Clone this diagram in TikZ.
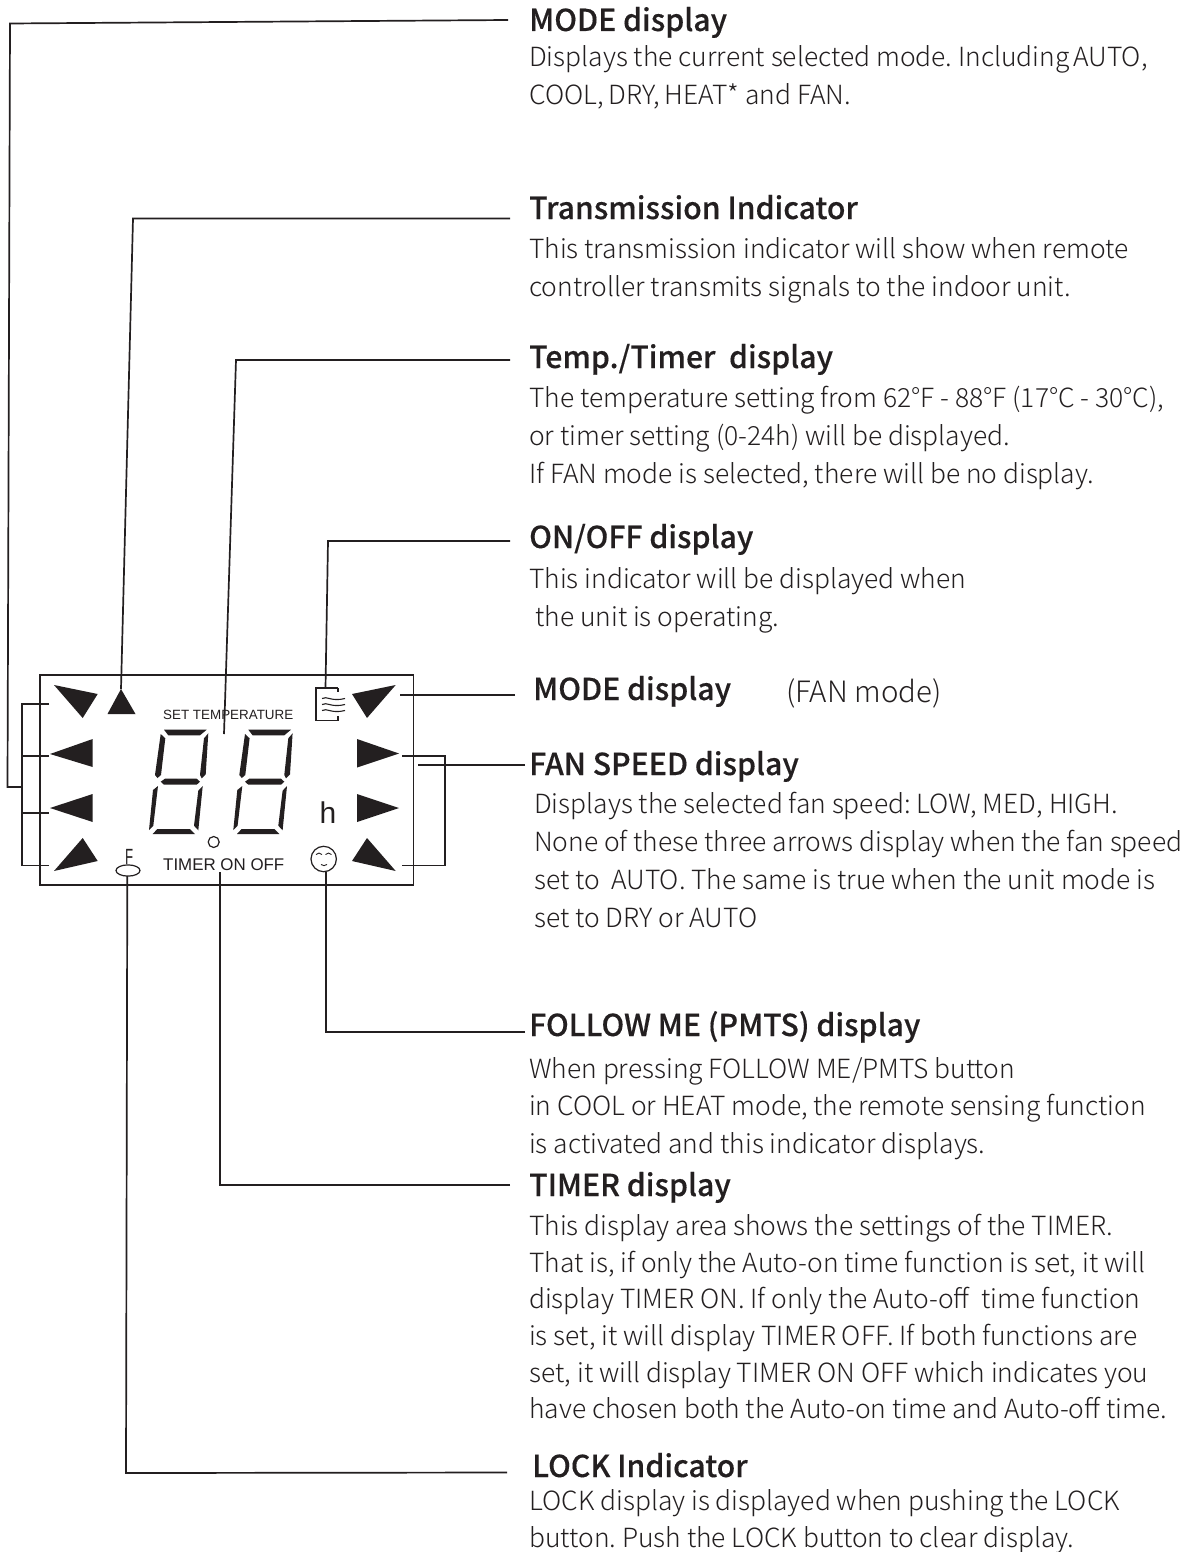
\documentclass[tikz,border=0pt]{standalone}
\usepackage{fontspec}
\setmainfont{Noto Sans CJK SC Light}
\newfontfamily\headfont[FakeBold=0.3]{Noto Sans CJK SC Medium}
\newfontfamily\lcdfont{Liberation Sans}
\definecolor{ink}{HTML}{231F20}
\tikzset{
  head/.style={anchor=base west,inner sep=0pt,font=\headfont\fontsize{30.2}{34}\selectfont,text=ink},
  body/.style={anchor=base west,inner sep=0pt,font=\frenchspacing\fontsize{26.4}{30}\selectfont,text=ink},
  lcd/.style={anchor=base west,inner sep=0pt,text=ink},
  wire/.style={draw=ink,line width=1.7pt},
  seg/.style={fill=ink,draw=none},
  frame/.style={draw=ink,line width=1.7pt},
}
\begin{document}
\begin{tikzpicture}[x=1pt,y=-1pt]
\useasboundingbox (0,0) rectangle (1185,1552);
\fill[white] (0,0) rectangle (1185,1552);
% LCD frame
\draw[frame] (40,675) rectangle (413.5,885);
% triangles
\foreach \p in {
 {(54,685)--(97.7,694)--(82.7,718)},
 {(50,754)--(92.7,739)--(92.7,767)},
 {(50,808)--(92.7,794)--(92.7,822)},
 {(54,871)--(97.7,861)--(82.7,838)},
 {(121,689)--(107.5,714)--(135.5,714)},
 {(395.7,685)--(352,694)--(367,718)},
 {(399,753.5)--(357,739)--(357,767.5)},
 {(399,808)--(357,794)--(357,822)},
 {(395.7,871)--(352,861)--(367,838)}}
 {\expandafter\fill\expandafter[ink] \p -- cycle;}
% digits
\foreach \dx in {0,84.3}{
\begin{scope}[xshift=\dx]
\fill[seg] (164,729.7)--(206.7,729.7)--(200,735.3)--(168.3,735.3)--cycle;
\fill[seg] (160.7,734)--(165.3,738.3)--(161,775)--(157.5,778)--(155,775)--cycle;
\fill[seg] (208.3,733.3)--(204,738.3)--(200,775)--(201.7,778.3)--(205.7,774.3)--cycle;
\fill[seg] (160.7,781.7)--(165,778.7)--(196.7,778.7)--(200,781.7)--(196.7,784.7)--(164,784.7)--cycle;
\fill[seg] (158,786)--(153,790)--(149,830)--(153.3,825.7)--cycle;
\fill[seg] (202.7,786)--(198.3,790.7)--(194,825.7)--(198.3,830.3)--cycle;
\fill[seg] (152.7,834)--(157.3,829)--(190,829)--(195,834)--cycle;
\end{scope}}
% small LCD texts
\node[lcd,font=\lcdfont\fontsize{13.4}{16}\selectfont] (settemp) at (163,719) {SET TEMPERATURE};
\node[lcd,font=\lcdfont\fontsize{16.9}{18}\selectfont] (timeronoff) at (163,870) {TIMER ON OFF};
\node[lcd,font=\lcdfont\fontsize{30}{32}\selectfont] (hh) at (319.5,823) {h};
\node[lcd,font=\lcdfont\fontsize{22}{24}\selectfont,xscale=.6] (ff) at (125,864) {F};
\draw[ink,line width=1.2pt] (213.7,842) circle (5.5);
\draw[draw=ink,fill=white,line width=1.2pt] (128,870.5) ellipse (12 and 5.6);
% smiley
\draw[ink,line width=1.2pt] (323.7,859) circle (12.7);
\draw[ink,line width=.9pt] (316,854.5) .. controls (318,852.5) and (320,852.5) .. (322,854.5);
\draw[ink,line width=.9pt] (325.5,854.5) .. controls (327.5,852.5) and (329.5,852.5) .. (331.5,854.5);
\draw[ink,line width=.9pt] (321,864.5) .. controls (323,866) and (325,866) .. (327,864.5);
% fan icon
\draw[ink,line width=1.4pt] (338,688) -- (316,688) -- (316,720.5) -- (338,720.5) -- (338,716);
\draw[ink,line width=1.4pt] (338,688) -- (338,692);
\foreach \yy in {698.5,704.5,710.5}{
\draw[ink,line width=1.1pt] (322,\yy) .. controls (327,\yy-3) and (331,\yy+3.5) .. (345,\yy);
}
% anchors for wires
\coordinate (a) at (508,20);
\coordinate (b) at (510,218.5);
\coordinate (c) at (510,360);
\coordinate (d) at (510,541);
\coordinate (e) at (515,694.7);
\coordinate (f) at (525,764.7);
\coordinate (g) at (525,1032);
\coordinate (h) at (510,1185);
\coordinate (i) at (507,1472.5);
% wires
\draw[wire] (a) -- (10,23.5) -- (7.5,787) -- (22,787);
\draw[wire] (49,704) -- (22,704) -- (22,865.5) -- (49,865.5);
\draw[wire] (22,756) -- (49,756);
\draw[wire] (22,813) -- (49,813);
\draw[wire] (b) -- (133,218.5) -- (121,689);
\draw[wire] (c) -- (236,360) -- (224,734);
\draw[wire] (d) -- (328,541) -- (325.5,688);
\draw[wire] (e) -- (400,694.7);
\draw[wire] (402,756) -- (445,756) -- (445,865.5) -- (402,865.5);
\draw[wire] (f) -- (418,764.7);
\draw[wire] (g) -- (326,1032) -- (326,871.5);
\draw[wire] (h) -- (219.7,1185) -- (219.7,872);
\draw[wire] (i) -- (126,1473) -- (127.3,876);
% texts
\node[head] (t1) at (529,31) {MODE display};
\node[body] (t1a) at (529,67) {Displays the current selected mode. Including\kern-2pt\ AUTO,};
\node[body] (t1b) at (529,105) {COOL,\kern-1pt\ DRY,\kern-1.5pt\ HEAT* and FAN.};
\node[head] (t2) at (529,219) {Transmission Indicator};
\node[body] (t2a) at (529,258) {This transmission indicator will show when remote};
\node[body] (t2b) at (529,296) {controller transmits signals to the indoor unit.};
\node[head] (t3) at (529,368) {Temp./Timer\ \ display};
\node[body] (t3a) at (529,407) {The temperature setting from 62°F - 88°F (17°C - 30°C),};
\node[body] (t3b) at (529,445) {or timer setting (0-24h) will be displayed.};
\node[body] (t3c) at (529,483) {If FAN mode is selected, there will be no display.};
\node[head] (t4) at (529,548) {ON/OFF display};
\node[body] (t4a) at (529,588) {This indicator will be displayed when};
\node[body] (t4b) at (535,626) {the unit is operating.};
\node[head] (t5) at (533,700) {MODE display};
\node[body,font=\fontsize{29.4}{32}\selectfont] (t5a) at (786,702) {(FAN mode)};
\node[head] (t6) at (529,775) {FAN SPEED display};
\node[body] (t6a) at (534,813) {Displays the selected fan speed: LOW, MED, HIGH.};
\node[body] (t6b) at (534,851) {None of these three arrows display when the fan speed};
\node[body] (t6c) at (534,889) {set to\ \ AUTO. The same is true when the unit mode is};
\node[body] (t6d) at (534,927) {set to DRY or AUTO};
\node[head] (t7) at (529,1036) {FOLLOW ME (PMTS) display};
\node[body] (t7a) at (529,1078) {When pressing FOLLOW ME/PMTS button};
\node[body] (t7b) at (529,1115) {in COOL or HEAT mode, the remote sensing function};
\node[body] (t7c) at (529,1153) {is activated and this indicator displays.};
\node[head] (t8) at (529,1196) {TIMER display};
\node[body] (t8a) at (529,1235) {This display area shows the settings of the TIMER.};
\node[body] (t8b) at (529,1272) {That is, if only the Auto-on time function is set, it will};
\node[body] (t8c) at (529,1308) {display TIMER ON. If only the Auto-off\ \ time function};
\node[body] (t8d) at (529,1345) {is set, it will display TIMER OFF. If both functions are};
\node[body] (t8e) at (529,1382) {set, it will display TIMER ON OFF which indicates you};
\node[body] (t8f) at (529,1418) {have chosen both the Auto-on time and Auto-off time.};
\node[head] (t9) at (532,1477) {LOCK Indicator};
\node[body] (t9a) at (529,1510) {LOCK display is displayed when pushing the LOCK};
\node[body] (t9b) at (529,1547) {button. Push the LOCK button to clear display.};
\end{tikzpicture}
\end{document}
